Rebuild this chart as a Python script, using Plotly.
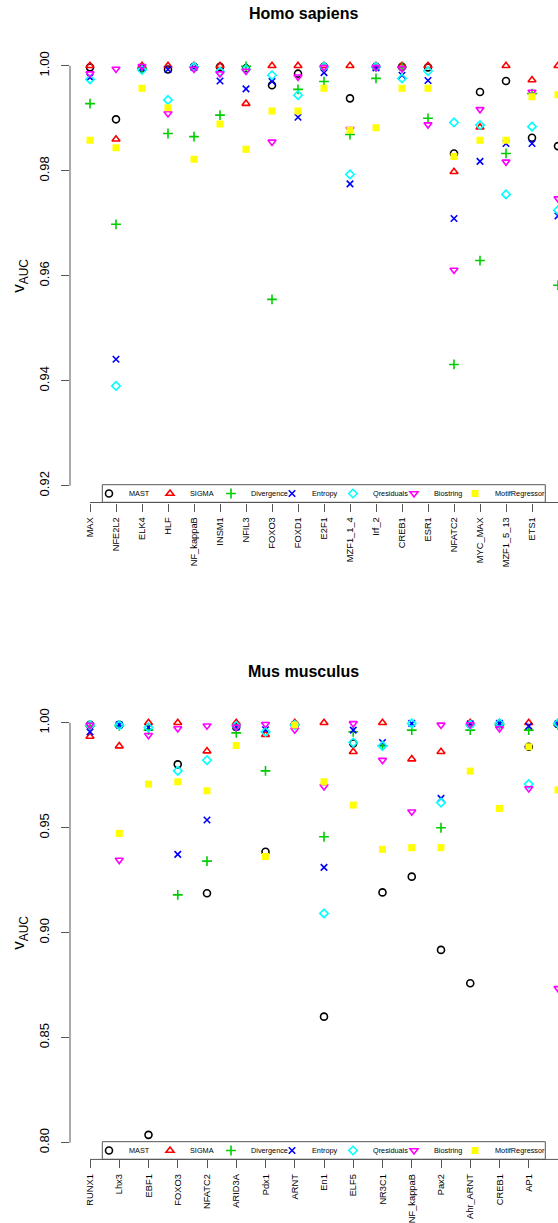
import plotly.graph_objects as go

W, H = 558, 1223

methods = ["MAST", "SIGMA", "Divergence", "Entropy", "Qresiduals", "Biostring", "MotifRegressor"]
colors = ["#000000", "#FF0000", "#00CD00", "#0000FF", "#00FFFF", "#FF00FF", "#FFFF00"]
symbols = ["circle-open", "triangle-up-open", "cross-thin-open", "x-thin-open",
           "diamond-open", "triangle-down-open", "square"]
sizes = [7, 7, 7, 6.5, 6.5, 7, 7]

# ---------------- Homo sapiens ----------------
hs_tf = ["MAX", "NFE2L2", "ELK4", "HLF", "NF_kappaB", "INSM1", "NFIL3", "FOXO3", "FOXD1", "E2F1",
         "MZF1_1_4", "Irf_2", "CREB1", "ESR1", "NFATC2", "MYC_MAX", "MZF1_5_13", "ETS1", "AP1"]
hs_mast = [0.9997, 0.9898, 0.9995, 0.9993, 0.9998, 0.9998, 0.9995, 0.9963, 0.9985, 0.9998,
           0.9938, 0.9998, 0.9998, 0.9997, 0.9833, 0.9950, 0.9971, 0.9863, 0.9847]
hs_sigma = [1.0, 0.9860, 1.0, 1.0, 1.0, 1.0, 0.9928, 1.0, 1.0, 1.0,
            1.0, 1.0, 1.0, 1.0, 0.9798, 0.9883, 1.0, 0.9973, 1.0]
hs_div = [0.9928, 0.9698, 0.9995, 0.9871, 0.9865, 0.9906, 0.9999, 0.9555, 0.9955, 0.9970,
          0.9869, 0.9976, 0.9997, 0.9900, 0.9431, 0.9629, 0.9833, 0.9947, 0.9582]
hs_ent = [0.9978, 0.9441, 0.9995, 0.9993, 0.9997, 0.9971, 0.9956, 0.9970, 0.9902, 0.9987,
          0.9775, 0.9996, 0.9982, 0.9972, 0.9709, 0.9818, 0.9852, 0.9852, 0.9714]
hs_qres = [0.9974, 0.9390, 0.9992, 0.9935, 0.9998, 0.9989, 0.9993, 0.9982, 0.9944, 0.9998,
           0.9793, 0.9998, 0.9976, 0.9990, 0.9892, 0.9887, 0.9755, 0.9884, 0.9725]
hs_bio = [0.9985, 0.9994, 0.9999, 0.9909, 0.9994, 0.9985, 0.9990, 0.9855, 0.9979, 0.9997,
          0.9879, 0.9997, 0.9995, 0.9888, 0.9611, 0.9917, 0.9817, 0.9950, 0.9747]
hs_mr = [0.9858, 0.9844, 0.9957, 0.9920, 0.9822, 0.9889, 0.9841, 0.9914, 0.9914, 0.9957,
         0.9877, 0.9882, 0.9957, 0.9957, 0.9827, 0.9858, 0.9858, 0.9941, 0.9945]
hs_yticks = [0.92, 0.94, 0.96, 0.98, 1.00]

# ---------------- Mus musculus ----------------
mm_tf = ["RUNX1", "Lhx3", "EBF1", "FOXO3", "NFATC2", "ARID3A", "Pdx1", "ARNT", "En1", "ELF5",
         "NR3C1", "NF_kappaB", "Pax2", "Ahr_ARNT", "CREB1", "AP1", "Esr1"]
mm_mast = [0.9990, 0.9990, 0.8037, 0.9802, 0.9188, 0.9980, 0.9386, 0.9990, 0.8600, 0.9902,
           0.9192, 0.9267, 0.8918, 0.8759, 0.9995, 0.9886, 0.9995]
mm_sigma = [0.9935, 0.9889, 1.0, 1.0, 0.9865, 1.0, 0.9943, 1.0, 1.0, 0.9862,
            1.0, 0.9827, 0.9862, 1.0, 1.0, 1.0, 1.0]
mm_div = [0.9985, 0.9985, 0.9965, 0.9180, 0.9341, 0.9952, 0.9771, 0.9990, 0.9457, 0.9957,
          0.9890, 0.9965, 0.9500, 0.9965, 0.9990, 0.9965, 0.9990]
mm_ent = [0.9957, 0.9990, 0.9978, 0.9373, 0.9537, 0.9980, 0.9967, 0.9990, 0.9311, 0.9965,
          0.9906, 0.9997, 0.9640, 0.9995, 0.9997, 0.9984, 0.9995]
mm_qres = [0.9989, 0.9989, 0.9978, 0.9771, 0.9822, 0.9985, 0.9957, 0.9990, 0.9092, 0.9906,
           0.9890, 0.9997, 0.9620, 0.9990, 0.9997, 0.9708, 0.9997]
mm_bio = [0.9989, 0.9346, 0.9941, 0.9973, 0.9986, 0.9980, 0.9993, 0.9967, 0.9697, 0.9997,
          0.9822, 0.9576, 0.9990, 0.9992, 0.9973, 0.9687, 0.8735]
mm_mr = [None, 0.9473, 0.9708, 0.9719, 0.9676, 0.9892, 0.9363, 0.9989, 0.9719, 0.9608,
         0.9397, 0.9405, 0.9405, 0.9770, 0.9592, 0.9886, 0.9680]
mm_yticks = [0.80, 0.85, 0.90, 0.95, 1.00]

hs_series = [hs_mast, hs_sigma, hs_div, hs_ent, hs_qres, hs_bio, hs_mr]
mm_series = [mm_mast, mm_sigma, mm_div, mm_ent, mm_qres, mm_bio, mm_mr]

FONT = "Liberation Sans, Arial, Helvetica, sans-serif"
AX = "#555555"

def px_x(p):
    return p / W

def px_y(p):
    return 1 - p / H

fig = go.Figure()

panels = [
    dict(tf=hs_tf, series=hs_series, xa="x", ya="y", legend="legend"),
    dict(tf=mm_tf, series=mm_series, xa="x2", ya="y2", legend="legend2"),
]
for p in panels:
    xs = list(range(len(p["tf"])))
    for k, m in enumerate(methods):
        open_sym = symbols[k] != "square"
        fig.add_trace(go.Scatter(
            x=xs, y=p["series"][k], mode="markers", name=m,
            xaxis=p["xa"], yaxis=p["ya"], legend=p["legend"],
            legendwidth=50 if k == len(methods) - 1 else None,
            marker=dict(symbol=symbols[k], size=sizes[k], color=colors[k],
                        line=dict(color=colors[k], width=1.6 if open_sym else 0)),
            hoverinfo="x+y+name", cliponaxis=True,
        ))

# geometry (pixels)
left_px = 70
hs_first, hs_step = 90, 26.0
mm_first, mm_step = 90, 29.25
hs_top, hs_bot = 49, 502.5
mm_top, mm_bot = 706, 1159.4

def xrange(first, step):
    return [(left_px - first) / step, (W - first) / step]

common_x = dict(showgrid=False, zeroline=False, showline=False, ticks="outside", ticklen=8,
                tickwidth=1, tickcolor=AX, tickangle=-90, automargin=False,
                tickfont=dict(family=FONT, size=9.3, color="#000"), ticklabelstandoff=2)
common_y = dict(showgrid=False, zeroline=False, showline=False, ticks="outside", ticklen=8,
                tickwidth=1, tickcolor=AX, tickangle=-90, automargin=False,
                tickfont=dict(family=FONT, size=13, color="#000"), ticklabelstandoff=7)

fig.update_layout(
    width=W, height=H, autosize=False,
    margin=dict(l=0, r=0, t=0, b=0),
    paper_bgcolor="white", plot_bgcolor="white",
    font=dict(family=FONT, color="#000"),
    xaxis=dict(domain=[px_x(left_px), 1], range=xrange(hs_first, hs_step),
               tickvals=list(range(len(hs_tf))), ticktext=hs_tf, anchor="y", **common_x),
    yaxis=dict(domain=[px_y(hs_bot), px_y(hs_top)], range=[0.9168, 1.0032],
               tickvals=hs_yticks, ticktext=[f"{v:.2f}" for v in hs_yticks], anchor="x", **common_y),
    xaxis2=dict(domain=[px_x(left_px), 1], range=xrange(mm_first, mm_step),
                tickvals=list(range(len(mm_tf))), ticktext=mm_tf, anchor="y2", **common_x),
    yaxis2=dict(domain=[px_y(mm_bot), px_y(mm_top)], range=[0.792, 1.008],
                tickvals=mm_yticks, ticktext=[f"{v:.2f}" for v in mm_yticks], anchor="x2", **common_y),
    showlegend=True,
)

# legend boxes (R style) drawn as shapes; plotly legends placed inside them
box_l, box_r = 102.3, 545.3
box_h = 17.6
hs_box_top = 484.7
mm_box_top = 1141.7

leg_common = dict(orientation="h", xanchor="left", yanchor="middle", bgcolor="rgba(0,0,0,0)",
                  borderwidth=0, font=dict(family=FONT, size=7.3, color="#000"),
                  entrywidth=16, entrywidthmode="pixels", itemwidth=30, tracegroupgap=0,
                  itemclick=False, itemdoubleclick=False)
fig.update_layout(
    legend=dict(x=px_x(89), y=px_y(hs_box_top + box_h / 2), **leg_common),
    legend2=dict(x=px_x(89), y=px_y(mm_box_top + box_h / 2), **leg_common),
)

shapes = []
for bt in [hs_box_top, mm_box_top]:
    shapes.append(dict(type="rect", xref="paper", yref="paper", layer="above",
                       x0=px_x(box_l), x1=px_x(box_r), y0=px_y(bt + box_h), y1=px_y(bt),
                       fillcolor="white", line=dict(color=AX, width=1)))
# axis lines spanning tick range (R style)
for ya, ticks in [("y", hs_yticks), ("y2", mm_yticks)]:
    shapes.append(dict(type="line", xref="paper", yref=ya, x0=px_x(left_px), x1=px_x(left_px),
                       y0=min(ticks), y1=max(ticks), line=dict(color=AX, width=1)))
for xa, tf, bot in [("x", hs_tf, hs_bot), ("x2", mm_tf, mm_bot)]:
    shapes.append(dict(type="line", xref=xa, yref="paper", x0=0, x1=len(tf) - 1,
                       y0=px_y(bot), y1=px_y(bot), line=dict(color=AX, width=1)))
fig.update_layout(shapes=shapes)

ann = []
for title, ty in [("Homo sapiens", 14), ("Mus musculus", 671.7)]:
    ann.append(dict(text=f"<b>{title}</b>", x=px_x(303), y=px_y(ty), xref="paper", yref="paper",
                    xanchor="center", yanchor="middle", showarrow=False,
                    font=dict(family=FONT, size=16, color="#000")))
for top, bot in [(hs_top, hs_bot), (mm_top, mm_bot)]:
    ann.append(dict(text="v<sub>AUC</sub>", x=px_x(20), y=px_y((top + bot) / 2), xref="paper",
                    yref="paper", xanchor="center", yanchor="middle", showarrow=False,
                    textangle=-90, font=dict(family=FONT, size=17, color="#000")))
fig.update_layout(annotations=ann)

fig.write_html("out.html")
